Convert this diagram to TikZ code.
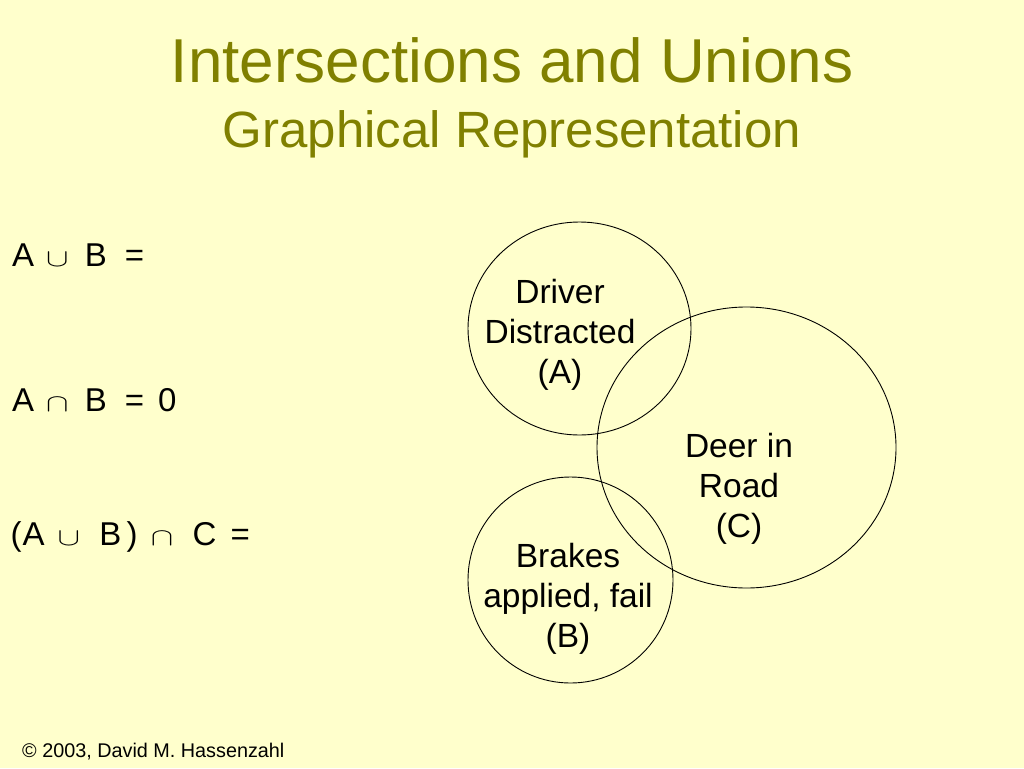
\documentclass[tikz,border=0pt]{standalone}
\usepackage{fontspec}
\setmainfont{Liberation Sans}
\usetikzlibrary{positioning}
\definecolor{bgyellow}{HTML}{FFFFCC}
\definecolor{olive}{HTML}{808000}
\newcommand{\setsym}[1]{\makebox[18pt][c]{\fontsize{23}{23}\selectfont\scalebox{1.35}[1]{$#1$}}}
\begin{document}
\begin{tikzpicture}[x=1pt,y=-1pt,
  settext/.style={anchor=base west,inner sep=0pt,font=\fontsize{33}{33}\selectfont},
  venntext/.style={align=center,inner sep=0pt,font=\fontsize{33.5}{40}\selectfont},
  setshape/.style={draw=black,line width=0.9pt}]
\fill[bgyellow] (0,0) rectangle (1024,768);
\useasboundingbox (0,0) rectangle (1024,768);
% title
\node[anchor=base,inner sep=0pt,text=olive,font=\fontsize{62}{62}\selectfont] (title) at (512,82) {Intersections and Unions};
\node[anchor=base,inner sep=0pt,text=olive,font=\fontsize{51}{51}\selectfont] (subtitle) at (512,147) {Graphical Representation};
% left expressions
\node[settext] (e1) at (12,266) {A\hspace{14pt}\setsym{\cup}\hspace{18.6pt}B\hspace{18pt}=};
\node[settext] (e2) at (12,411) {A\hspace{14pt}\setsym{\cap}\hspace{18.6pt}B\hspace{18pt}=\hspace{14pt}0};
\node[settext] (e3) at (10.5,545) {(\hspace{1pt}A\hspace{15pt}\setsym{\cup}\hspace{21.6pt}B\hspace{5.4pt})\hspace{15.4pt}\setsym{\cap}\hspace{21.4pt}C\hspace{14.2pt}=};
% circles
\draw[setshape] (579.5,328.5) ellipse [x radius=111.5, y radius=106.5];
\draw[setshape] (746.5,447.5) ellipse [x radius=149.5, y radius=140.5];
\draw[setshape] (570.5,580) ellipse [x radius=102.5, y radius=103];
% labels (anchor base = baseline of last line)
\node[venntext,anchor=base] (la) at (560,383) {Driver\\Distracted\\(A)};
\node[venntext,anchor=base] (lc) at (739,537) {Deer in\\Road\\(C)};
\node[venntext,anchor=base] (lb) at (568,647) {Brakes\\applied, fail\\(B)};
% footer
\node[anchor=base west,inner sep=0pt,font=\fontsize{19.8}{19.8}\selectfont] (foot) at (22,757) {© 2003, David M. Hassenzahl};
\end{tikzpicture}
\end{document}
